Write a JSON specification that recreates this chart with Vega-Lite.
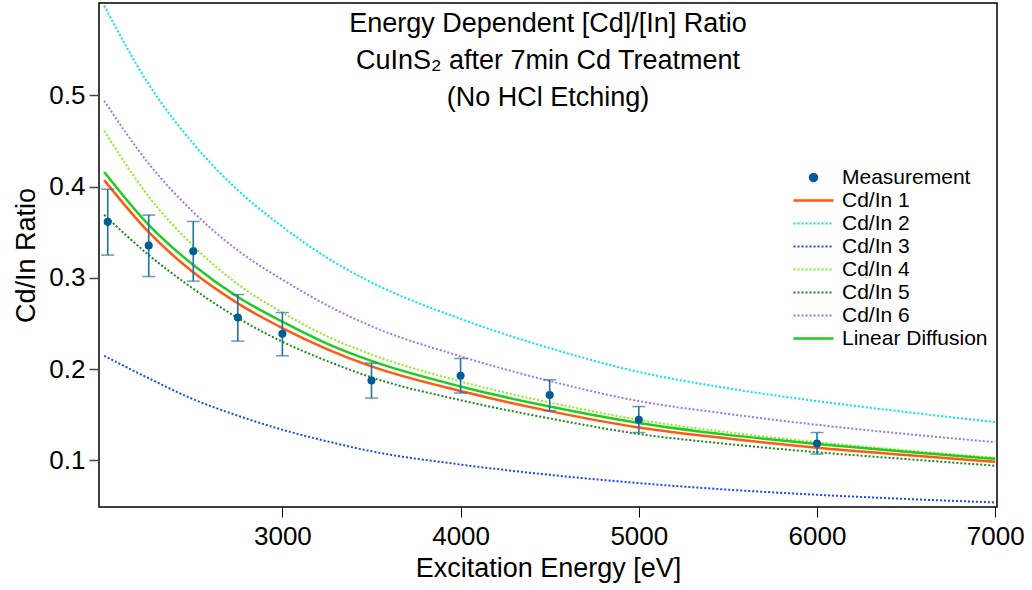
{
  "$schema": "https://vega.github.io/schema/vega-lite/v6.json",
  "autosize": {"type": "none"},
  "padding": {"left": 99, "top": 3, "right": 35, "bottom": 83},
  "width": 898,
  "height": 504,
  "background": "white",
  "config": {
    "font": "Liberation Sans",
    "view": {"stroke": "black", "strokeWidth": 1.5},
    "axis": {"grid": false, "domain": false, "labelFont": "Liberation Sans", "titleFont": "Liberation Sans", "labelColor": "black", "titleColor": "black", "titleFontWeight": "normal"}
  },
  "title": {
    "text": ["Energy Dependent [Cd]/[In] Ratio", "CuInS₂ after 7min Cd Treatment", "(No HCl Etching)"],
    "fontSize": 27, "font": "Liberation Sans", "fontWeight": "normal", "color": "black",
    "lineHeight": 37, "anchor": "middle", "frame": "group", "offset": -109
  },
  "datasets": {
    "meas": [
      {"series": "Measurement", "E": 2020, "ratio": 0.3613, "lo": 0.3249, "hi": 0.3971},
      {"series": "Measurement", "E": 2250, "ratio": 0.3354, "lo": 0.3014, "hi": 0.3687},
      {"series": "Measurement", "E": 2500, "ratio": 0.3292, "lo": 0.2964, "hi": 0.3617},
      {"series": "Measurement", "E": 2750, "ratio": 0.2565, "lo": 0.2307, "hi": 0.2817},
      {"series": "Measurement", "E": 3000, "ratio": 0.2387, "lo": 0.2146, "hi": 0.262},
      {"series": "Measurement", "E": 3500, "ratio": 0.1876, "lo": 0.1683, "hi": 0.2066},
      {"series": "Measurement", "E": 4000, "ratio": 0.1927, "lo": 0.1738, "hi": 0.2117},
      {"series": "Measurement", "E": 4500, "ratio": 0.1716, "lo": 0.1544, "hi": 0.1883},
      {"series": "Measurement", "E": 5000, "ratio": 0.1445, "lo": 0.1306, "hi": 0.159},
      {"series": "Measurement", "E": 6000, "ratio": 0.1186, "lo": 0.107, "hi": 0.1306}
    ],
    "curves": [
      {"series": "Cd/In 1", "E": 2000, "ratio": 0.407},
      {"series": "Cd/In 1", "E": 2250, "ratio": 0.350},
      {"series": "Cd/In 1", "E": 2500, "ratio": 0.306},
      {"series": "Cd/In 1", "E": 2750, "ratio": 0.272},
      {"series": "Cd/In 1", "E": 3000, "ratio": 0.245},
      {"series": "Cd/In 1", "E": 3250, "ratio": 0.222},
      {"series": "Cd/In 1", "E": 3500, "ratio": 0.203},
      {"series": "Cd/In 1", "E": 4000, "ratio": 0.176},
      {"series": "Cd/In 1", "E": 4500, "ratio": 0.154},
      {"series": "Cd/In 1", "E": 5000, "ratio": 0.136},
      {"series": "Cd/In 1", "E": 5500, "ratio": 0.124},
      {"series": "Cd/In 1", "E": 6000, "ratio": 0.114},
      {"series": "Cd/In 1", "E": 6500, "ratio": 0.106},
      {"series": "Cd/In 1", "E": 7000, "ratio": 0.0985},
      {"series": "Cd/In 2", "E": 2000, "ratio": 0.598},
      {"series": "Cd/In 2", "E": 2250, "ratio": 0.512},
      {"series": "Cd/In 2", "E": 2500, "ratio": 0.447},
      {"series": "Cd/In 2", "E": 2750, "ratio": 0.396},
      {"series": "Cd/In 2", "E": 3000, "ratio": 0.356},
      {"series": "Cd/In 2", "E": 3250, "ratio": 0.322},
      {"series": "Cd/In 2", "E": 3500, "ratio": 0.295},
      {"series": "Cd/In 2", "E": 4000, "ratio": 0.255},
      {"series": "Cd/In 2", "E": 4500, "ratio": 0.223},
      {"series": "Cd/In 2", "E": 5000, "ratio": 0.197},
      {"series": "Cd/In 2", "E": 5500, "ratio": 0.179},
      {"series": "Cd/In 2", "E": 6000, "ratio": 0.165},
      {"series": "Cd/In 2", "E": 6500, "ratio": 0.153},
      {"series": "Cd/In 2", "E": 7000, "ratio": 0.142},
      {"series": "Cd/In 3", "E": 2000, "ratio": 0.2146},
      {"series": "Cd/In 3", "E": 2250, "ratio": 0.190},
      {"series": "Cd/In 3", "E": 2500, "ratio": 0.167},
      {"series": "Cd/In 3", "E": 2750, "ratio": 0.149},
      {"series": "Cd/In 3", "E": 3000, "ratio": 0.1336},
      {"series": "Cd/In 3", "E": 3250, "ratio": 0.121},
      {"series": "Cd/In 3", "E": 3500, "ratio": 0.110},
      {"series": "Cd/In 3", "E": 4000, "ratio": 0.0955},
      {"series": "Cd/In 3", "E": 4500, "ratio": 0.0842},
      {"series": "Cd/In 3", "E": 5000, "ratio": 0.0752},
      {"series": "Cd/In 3", "E": 5500, "ratio": 0.068},
      {"series": "Cd/In 3", "E": 6000, "ratio": 0.0624},
      {"series": "Cd/In 3", "E": 6500, "ratio": 0.0578},
      {"series": "Cd/In 3", "E": 7000, "ratio": 0.054},
      {"series": "Cd/In 4", "E": 2000, "ratio": 0.461},
      {"series": "Cd/In 4", "E": 2250, "ratio": 0.389},
      {"series": "Cd/In 4", "E": 2500, "ratio": 0.335},
      {"series": "Cd/In 4", "E": 2750, "ratio": 0.293},
      {"series": "Cd/In 4", "E": 3000, "ratio": 0.262},
      {"series": "Cd/In 4", "E": 3250, "ratio": 0.236},
      {"series": "Cd/In 4", "E": 3500, "ratio": 0.216},
      {"series": "Cd/In 4", "E": 4000, "ratio": 0.1865},
      {"series": "Cd/In 4", "E": 4500, "ratio": 0.1635},
      {"series": "Cd/In 4", "E": 5000, "ratio": 0.1445},
      {"series": "Cd/In 4", "E": 5500, "ratio": 0.1308},
      {"series": "Cd/In 4", "E": 6000, "ratio": 0.120},
      {"series": "Cd/In 4", "E": 6500, "ratio": 0.111},
      {"series": "Cd/In 4", "E": 7000, "ratio": 0.1028},
      {"series": "Cd/In 5", "E": 2000, "ratio": 0.369},
      {"series": "Cd/In 5", "E": 2250, "ratio": 0.325},
      {"series": "Cd/In 5", "E": 2500, "ratio": 0.288},
      {"series": "Cd/In 5", "E": 2750, "ratio": 0.256},
      {"series": "Cd/In 5", "E": 3000, "ratio": 0.230},
      {"series": "Cd/In 5", "E": 3250, "ratio": 0.209},
      {"series": "Cd/In 5", "E": 3500, "ratio": 0.191},
      {"series": "Cd/In 5", "E": 4000, "ratio": 0.166},
      {"series": "Cd/In 5", "E": 4500, "ratio": 0.146},
      {"series": "Cd/In 5", "E": 5000, "ratio": 0.129},
      {"series": "Cd/In 5", "E": 5500, "ratio": 0.118},
      {"series": "Cd/In 5", "E": 6000, "ratio": 0.109},
      {"series": "Cd/In 5", "E": 6500, "ratio": 0.1015},
      {"series": "Cd/In 5", "E": 7000, "ratio": 0.0942},
      {"series": "Cd/In 6", "E": 2000, "ratio": 0.494},
      {"series": "Cd/In 6", "E": 2250, "ratio": 0.425},
      {"series": "Cd/In 6", "E": 2500, "ratio": 0.372},
      {"series": "Cd/In 6", "E": 2750, "ratio": 0.330},
      {"series": "Cd/In 6", "E": 3000, "ratio": 0.298},
      {"series": "Cd/In 6", "E": 3250, "ratio": 0.270},
      {"series": "Cd/In 6", "E": 3500, "ratio": 0.247},
      {"series": "Cd/In 6", "E": 4000, "ratio": 0.214},
      {"series": "Cd/In 6", "E": 4500, "ratio": 0.187},
      {"series": "Cd/In 6", "E": 5000, "ratio": 0.165},
      {"series": "Cd/In 6", "E": 5500, "ratio": 0.151},
      {"series": "Cd/In 6", "E": 6000, "ratio": 0.139},
      {"series": "Cd/In 6", "E": 6500, "ratio": 0.129},
      {"series": "Cd/In 6", "E": 7000, "ratio": 0.120},
      {"series": "Linear Diffusion", "E": 2000, "ratio": 0.416},
      {"series": "Linear Diffusion", "E": 2250, "ratio": 0.358},
      {"series": "Linear Diffusion", "E": 2500, "ratio": 0.314},
      {"series": "Linear Diffusion", "E": 2750, "ratio": 0.279},
      {"series": "Linear Diffusion", "E": 3000, "ratio": 0.252},
      {"series": "Linear Diffusion", "E": 3250, "ratio": 0.228},
      {"series": "Linear Diffusion", "E": 3500, "ratio": 0.209},
      {"series": "Linear Diffusion", "E": 4000, "ratio": 0.181},
      {"series": "Linear Diffusion", "E": 4500, "ratio": 0.159},
      {"series": "Linear Diffusion", "E": 5000, "ratio": 0.141},
      {"series": "Linear Diffusion", "E": 5500, "ratio": 0.128},
      {"series": "Linear Diffusion", "E": 6000, "ratio": 0.118},
      {"series": "Linear Diffusion", "E": 6500, "ratio": 0.1095},
      {"series": "Linear Diffusion", "E": 7000, "ratio": 0.1018}
    ]
  },
  "encoding": {
    "x": {
      "field": "E", "type": "quantitative",
      "scale": {"domain": [1971, 7010], "nice": false, "zero": false},
      "axis": {"title": "Excitation Energy [eV]", "values": [3000, 4000, 5000, 6000, 7000], "format": "d", "labelFontSize": 26, "titleFontSize": 27, "tickSize": 10, "tickColor": "black", "tickWidth": 1, "labelPadding": 6, "titlePadding": 6, "labelFlush": false}
    },
    "y": {
      "field": "ratio", "type": "quantitative",
      "scale": {"domain": [0.049, 0.601], "nice": false, "zero": false},
      "axis": {"title": "Cd/In Ratio", "values": [0.1, 0.2, 0.3, 0.4, 0.5], "format": ".1f", "labelFontSize": 26, "titleFontSize": 27, "tickSize": 10, "tickColor": "#444", "tickWidth": 1.5, "labelPadding": 4, "titlePadding": 8}
    },
    "color": {
      "field": "series", "type": "nominal",
      "scale": {
        "domain": ["Measurement", "Cd/In 1", "Cd/In 2", "Cd/In 3", "Cd/In 4", "Cd/In 5", "Cd/In 6", "Linear Diffusion"],
        "range": ["#005b96", "#ff5a0f", "#00e5ee", "#1a47f5", "#86ef1c", "#198c19", "#a375e6", "#1fcc1f"]
      },
      "legend": {
        "orient": "none", "legendX": 704, "legendY": 164, "title": null,
        "symbolType": "stroke", "symbolSize": 1600, "symbolStrokeWidth": 2.5,
        "labelFontSize": 21, "labelFont": "Liberation Sans", "labelColor": "black", "labelOffset": 18,
        "rowPadding": 1, "labelLimit": 300,
        "encode": {
          "symbols": {
            "update": {
              "shape": {"signal": "datum.value === 'Measurement' ? 'circle' : 'stroke'"},
              "size": {"signal": "datum.value === 'Measurement' ? 55 : 1600"},
              "fill": {"signal": "datum.value === 'Measurement' ? '#005b96' : 'transparent'"},
              "stroke": {"signal": "datum.value === 'Measurement' ? 'transparent' : scale('color', datum.value)"},
              "strokeDash": {"signal": "(datum.value === 'Cd/In 1' || datum.value === 'Linear Diffusion' || datum.value === 'Measurement') ? [1, 0] : [2, 2]"},
              "strokeWidth": {"signal": "(datum.value === 'Cd/In 1' || datum.value === 'Linear Diffusion') ? 2.5 : 2"},
              "opacity": {"value": 1}
            }
          }
        }
      }
    }
  },
  "layer": [
    {
      "data": {"name": "curves"},
      "transform": [{"filter": "datum.series !== 'Cd/In 1' && datum.series !== 'Linear Diffusion'"}],
      "mark": {"type": "line", "interpolate": "monotone", "strokeWidth": 2, "strokeDash": [2, 2], "clip": true}
    },
    {
      "data": {"name": "curves"},
      "transform": [{"filter": "datum.series === 'Cd/In 1' || datum.series === 'Linear Diffusion'"}],
      "mark": {"type": "line", "interpolate": "monotone", "strokeWidth": 2.5, "clip": true}
    },
    {
      "data": {"name": "meas"},
      "mark": {"type": "errorbar", "ticks": {"size": 13, "thickness": 1.5}, "thickness": 1.6, "color": "#22719f"},
      "encoding": {
        "y": {"field": "lo", "type": "quantitative"},
        "y2": {"field": "hi"},
        "color": {"value": "#22719f"}
      }
    },
    {
      "data": {"name": "meas"},
      "mark": {"type": "point", "filled": true, "size": 65, "opacity": 1}
    }
  ]
}
